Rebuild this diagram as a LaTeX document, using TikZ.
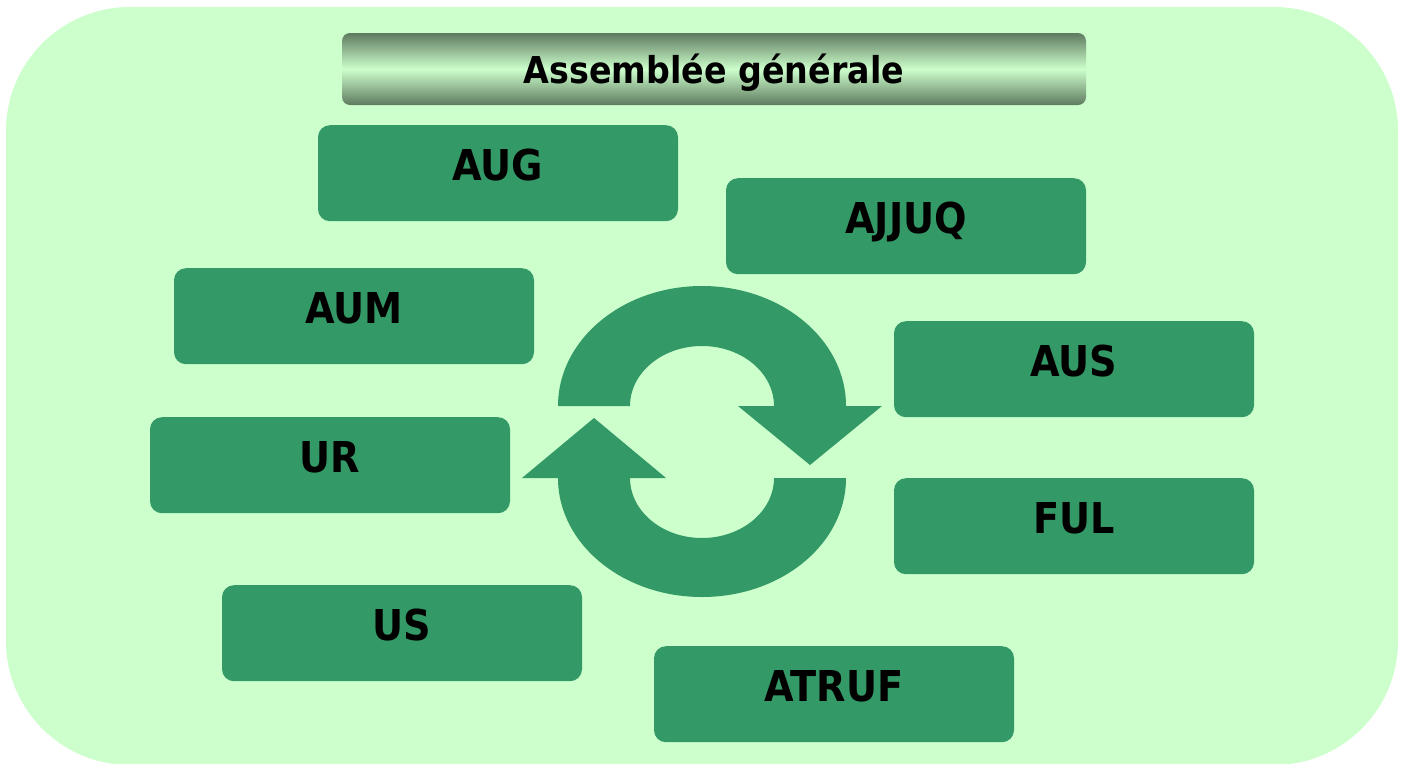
\documentclass[tikz,border=0pt]{standalone}
\usepackage{fontspec}
\setmainfont{DejaVu Sans Condensed}[BoldFont={DejaVu Sans Condensed Bold}]
\definecolor{bgc}{HTML}{CCFFCC}
\definecolor{boxc}{HTML}{339966}
\definecolor{titdark}{HTML}{5F7A5F}
\definecolor{titlight}{HTML}{CCFFCC}
\tikzset{
  unitbox/.style={fill=boxc, rounded corners=12pt, inner xsep=0pt, inner ysep=0pt,
    minimum width=360pt, text height=55pt, text depth=41pt, anchor=north,
    font=\bfseries\fontsize{42.5}{50}\selectfont, text=black},
  cyclearrow/.style={fill=boxc}
}
\begin{document}
\begin{tikzpicture}[x=1pt,y=-1pt]
\useasboundingbox (0,0) rectangle (1402,763);
\clip (0,0) rectangle (1402,763);
\fill[bgc, rounded corners=124pt] (6,7) rectangle (1398,765);
% title
\shade[rounded corners=8pt, top color=titdark, bottom color=titdark, middle color=titlight] (342,33) rectangle (1086,105);
\node[inner sep=0pt, text height=50pt, text depth=22pt, minimum width=744pt, anchor=north,
  font=\bfseries\fontsize{37}{44}\selectfont] (title) at (714,33) {Assemblée générale};
% boxes
\node[unitbox] (aug) at (498,125) {AUG};
\node[unitbox] (ajjuq) at (906,178) {AJJUQ};
\node[unitbox] (aum) at (354,268) {AUM};
\node[unitbox] (aus) at (1074,321) {AUS};
\node[unitbox] (ur) at (330,417) {UR};
\node[unitbox] (ful) at (1074,478) {FUL};
\node[unitbox] (us) at (402,585) {US};
\node[unitbox] (atruf) at (834,646) {ATRUF};
% circular arrows
\fill[cyclearrow] (558,406) arc[start angle=180, end angle=360, x radius=144, y radius=120]
  -- (882,406) -- (810,465) -- (738,406) -- (774,406)
  arc[start angle=0, end angle=-180, x radius=72, y radius=60] -- cycle;
\fill[cyclearrow] (846,478) arc[start angle=0, end angle=180, x radius=144, y radius=119]
  -- (522,478) -- (594,418) -- (666,478) -- (630,478)
  arc[start angle=180, end angle=0, x radius=72, y radius=60] -- cycle;
\end{tikzpicture}
\end{document}
